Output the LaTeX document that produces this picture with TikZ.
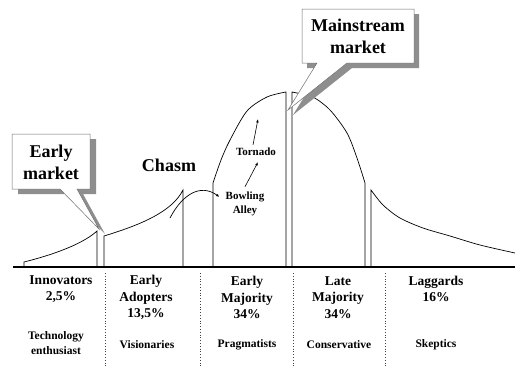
\documentclass[tikz,border=0pt]{standalone}
\usepackage{fontspec}
\setmainfont{Liberation Serif}
\usepackage{xcolor}
\usepackage{tikz}
\usetikzlibrary{arrows.meta}
\definecolor{shadowgray}{HTML}{8E8E8E}
\definecolor{rimgray}{HTML}{6E6E6E}

\begin{document}
\begin{tikzpicture}[x=1pt,y=-1pt,>={Latex[length=3.5pt,width=2.6pt]},
  curve/.style={black,line width=0.7pt},
  group/.style={font=\bfseries\fontsize{13.5}{16.5}\selectfont,align=center,inner sep=0pt},
  role/.style={font=\bfseries\fontsize{11.5}{15}\selectfont,align=center,inner sep=0pt},
  phase/.style={font=\bfseries\fontsize{11}{14}\selectfont,inner sep=1pt},
  callout/.style={font=\bfseries\fontsize{18}{22}\selectfont,align=center,inner sep=0pt},
  divider/.style={dotted,line width=0.8pt,black!75},
  bubble/.style={fill=white,draw=rimgray,line width=0.5pt}]
  \useasboundingbox (0,0) rectangle (515,368);
  % adoption curve, cut into its five groups
  \draw[curve] (24,267) -- (24,262) .. controls (60,253) and (85,242) .. (97,231) -- (97,267);
  \draw[curve] (104,267) -- (104,236) .. controls (140,225) and (172,212) .. (183,190) -- (183,267);
  \draw[curve] (213,267) -- plot[smooth] coordinates {(213,183) (221,160) (230,140) (247,111) (267,97) (286,92)} -- (286,267);
  \draw[curve] (292,267) -- (292,92) -- plot[smooth] coordinates {(297,93) (313,97) (330,110) (347,133) (357,158) (365,183)} -- (365,267);
  \draw[curve] (371,267) -- plot[smooth] coordinates {(371,190) (383,205) (400,218) (423,228) (450,236) (480,245) (515,253)};
  \draw[line width=1.6pt] (13,267) -- (515,267);
  \foreach \x in {105,200,293,385}
    \draw[divider] (\x,273) -- (\x,368);

  \node[phase] (chasm) at (169,165) {\fontsize{18}{22}\selectfont Chasm};
  \node[phase] (tornado) at (256,152) {Tornado};
  \node[phase] (bowling) at (245,197) {Bowling};
  \node[phase] (alley) at (245,211) {Alley};
  \coordinate (gap) at (170,218);
  \coordinate (peak) at (258,119);
  \draw[->,curve] (gap) .. controls (182,195) and (200,183) .. ([xshift=-5pt]bowling.west);
  \draw[->,line width=0.6pt] ([xshift=0pt,yshift=4pt]bowling.north) -- ([xshift=2pt,yshift=-5pt]tornado.south);
  \draw[->,line width=0.6pt] ([xshift=-3pt,yshift=2pt]tornado.north) -- (peak);

  % callouts with drop shadow
  \fill[shadowgray,shift={(6,5)}] (12,134) -- (90,134) -- (90,189) -- (77,189) -- (99,229) -- (60,189) -- (12,189) -- cycle;
  \draw[bubble] (12,134) -- (90,134) -- (90,189) -- (77,189) -- (99,229) -- (60,189) -- (12,189) -- cycle;
  \node[callout] (early) at (51,162) {Early\\market};
  \fill[shadowgray,shift={(5,5)}] (302,9) -- (414,9) -- (414,63) -- (347,63) -- (288,110) -- (317,63) -- (302,63) -- cycle;
  \draw[bubble] (302,9) -- (414,9) -- (414,63) -- (347,63) -- (288,110) -- (317,63) -- (302,63) -- cycle;
  \node[callout] (mainstream) at (358,36) {Mainstream\\market};

  % groups under the axis
  \node[group] (innovators) at (61,289) {Innovators\\2,5\%};
  \node[group] (adopters) at (146,297.5) {Early\\Adopters\\13,5\%};
  \node[group] (early majority) at (247,297.5) {Early\\Majority\\34\%};
  \node[group] (late majority) at (338,297.5) {Late\\Majority\\34\%};
  \node[group] (laggards) at (436,289) {Laggards\\16\%};
  \node[role] (enthusiast) at (56,343.5) {Technology\\enthusiast};
  \node[role] (visionaries) at (147,345) {Visionaries};
  \node[role] (pragmatists) at (247,345) {Pragmatists};
  \node[role] (conservative) at (339,345) {Conservative};
  \node[role] (skeptics) at (436,345) {Skeptics};
\end{tikzpicture}
\end{document}
